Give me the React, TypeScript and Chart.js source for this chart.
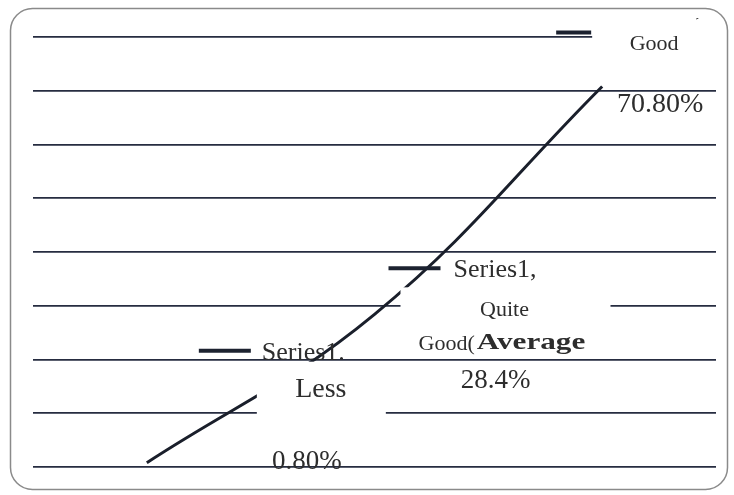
import React, { useEffect, useRef } from "react";
import { Chart, registerables } from "chart.js";

Chart.register(...registerables);

const seriesName = "Series1";
const categories = ["Less", "Quite Good(Average", "Good"];
const seriesValues = [0.8, 28.4, 70.8];
const valueLabels = ["0.80%", "28.4%", "70.80%"];
const yMin = 0;
const yMax = 80;
const yStep = 10;

const TEXT = "#2d2d2d";
const SERIF = "'Liberation Serif', 'DejaVu Serif', serif";

const framePlugin = {
  id: "frame",
  beforeDraw(chart: any) {
    const ctx = chart.ctx;
    ctx.save();
    ctx.fillStyle = "#ffffff";
    ctx.fillRect(0, 0, chart.width, chart.height);
    ctx.strokeStyle = "#8a8a8a";
    ctx.lineWidth = 1.5;
    ctx.beginPath();
    (ctx as any).roundRect(10.5, 8.5, 717, 481, 22);
    ctx.stroke();
    ctx.restore();
  },
};

function drawText(ctx: any, txt: string, x: number, y: number, size: number, align: string, bold = false) {
  ctx.font = `${bold ? "bold " : ""}${size}px ${SERIF}`;
  ctx.textAlign = align;
  ctx.textBaseline = "middle";
  ctx.fillStyle = TEXT;
  ctx.fillText(txt, x, y);
}

function drawKey(ctx: any, x1: number, x2: number, y: number) {
  ctx.strokeStyle = "#1c2230";
  ctx.lineWidth = 4;
  ctx.lineCap = "butt";
  ctx.beginPath();
  ctx.moveTo(x1, y);
  ctx.lineTo(x2, y);
  ctx.stroke();
}

const labelPlugin = {
  id: "pointLabels",
  afterDatasetsDraw(chart: any) {
    const ctx = chart.ctx;
    const pts = chart.getDatasetMeta(0).data;
    ctx.save();
    ctx.beginPath();
    ctx.rect(0, 18, chart.width, chart.height - 18);
    ctx.clip();

    // point 1: Less
    {
      const p = pts[0];
      ctx.fillStyle = "#ffffff";
      ctx.fillRect(p.x + 110, p.y - 101, 129, 93);
      drawKey(ctx, p.x + 52, p.x + 104, p.y - 112);
      drawText(ctx, seriesName + ".", p.x + 115, p.y - 110, 26, "left");
      drawText(ctx, categories[0], p.x + 174, p.y - 73, 28, "center");
      drawText(ctx, valueLabels[0], p.x + 160, p.y - 1, 27, "center");
    }
    // point 2: Quite Good(Average
    {
      const p = pts[1];
      ctx.fillStyle = "#ffffff";
      ctx.fillRect(p.x + 26, p.y - 27, 210, 65);
      drawKey(ctx, p.x + 14, p.x + 66, p.y - 46);
      drawText(ctx, seriesName + ",", p.x + 79, p.y - 44, 26, "left");
      drawText(ctx, "Quite", p.x + 130, p.y - 4, 22, "center");
      drawText(ctx, "Good(", p.x + 44, p.y + 30, 22, "left");
      ctx.font = `22px ${SERIF}`;
      const gw = ctx.measureText("Good(").width;
      ctx.save();
      ctx.translate(p.x + 44 + gw + 2, p.y + 29);
      ctx.scale(1.3, 0.92);
      drawText(ctx, "Average", 0, 0, 24, "left", true);
      ctx.restore();
      drawText(ctx, valueLabels[1], p.x + 121, p.y + 67, 27, "center");
    }
    // point 3: Good
    {
      const p = pts[2];
      ctx.fillStyle = "#ffffff";
      ctx.fillRect(p.x - 10, p.y - 73, 124, 61);
      drawKey(ctx, p.x - 46, p.x - 11, p.y - 54);
      drawText(ctx, seriesName + ",", p.x + 58, p.y - 77, 26, "center");
      drawText(ctx, categories[2], p.x + 52, p.y - 42, 22, "center");
      drawText(ctx, valueLabels[2], p.x + 58, p.y + 18, 28, "center");
    }
    ctx.restore();
  },
};

export default function App() {
  const ref = useRef<HTMLCanvasElement | null>(null);
  useEffect(() => {
    if (!ref.current) return;
    const chart = new Chart(ref.current, {
      type: "line",
      data: {
        labels: categories,
        datasets: [
          {
            label: seriesName,
            data: seriesValues,
            borderColor: "#1a1f2b",
            borderWidth: 3,
            pointRadius: 0,
            tension: 0.4,
            fill: false,
          },
        ],
      },
      options: {
        animation: false,
        responsive: false,
        layout: { padding: { left: 33, right: 18, top: 37, bottom: 28 } },
        plugins: { legend: { display: false }, tooltip: { enabled: false } },
        scales: {
          x: { display: false, offset: true },
          y: {
            display: true,
            min: yMin,
            max: yMax,
            ticks: { display: false, stepSize: yStep },
            border: { display: false },
            grid: { color: "#262c40", lineWidth: 1.8, drawTicks: false },
          },
        },
      },
      plugins: [framePlugin, labelPlugin],
    });
    return () => chart.destroy();
  }, []);
  return (
    <div style={{ position: "absolute", left: 0, top: 0, width: 734, height: 495, background: "#fff" }}>
      <canvas ref={ref} width={734} height={495} />
    </div>
  );
}
